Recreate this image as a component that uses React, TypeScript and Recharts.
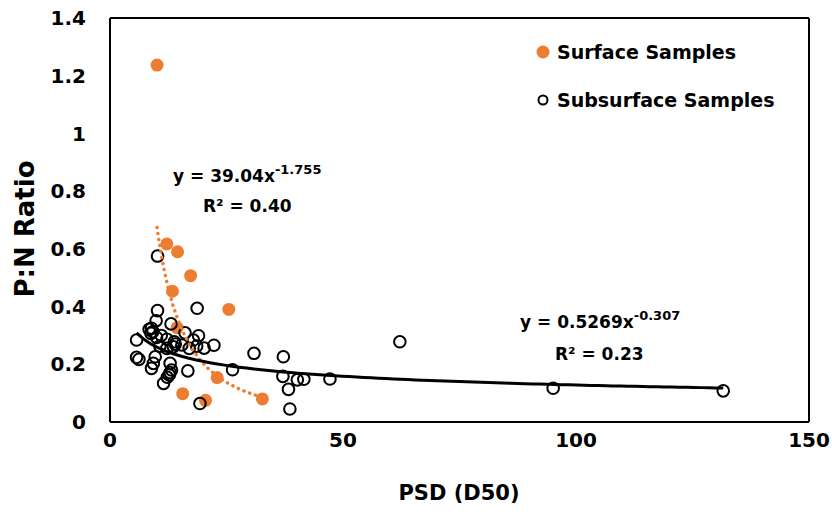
import { ReferenceLine, Scatter, ScatterChart, XAxis, YAxis } from 'recharts';

const FONT = '"DejaVu Sans", sans-serif';

// surface samples (orange)
const surfaceX = [10.1, 12.2, 14.5, 17.3, 13.4, 25.5, 14.4, 23.0, 15.6, 20.5, 32.7];
const surfaceY = [1.237, 0.617, 0.59, 0.507, 0.453, 0.39, 0.327, 0.154, 0.098, 0.075, 0.08];

// subsurface samples (open circles)
const subsurfaceX = [
    10.2, 10.2, 18.7, 9.9, 13.1, 8.9, 8.8, 16.1, 19.0, 5.7, 10.0, 12.2, 13.8, 17.9, 22.3, 20.2, 18.6,
    17.0, 15.4, 10.7, 12.2, 13.6, 30.9, 37.2, 5.7, 6.2, 9.7, 9.3, 8.9, 12.9, 13.2, 12.7, 12.9, 16.7,
    26.3, 11.5, 12.3, 37.1, 40.2, 41.6, 38.3, 19.3, 38.6, 47.2, 62.2, 95.1, 131.6, 9.2, 8.4, 14.0, 11.0
];
const subsurfaceY = [
    0.575, 0.386, 0.394, 0.351, 0.34, 0.325, 0.307, 0.309, 0.299, 0.284, 0.293, 0.287, 0.278, 0.284,
    0.266, 0.256, 0.263, 0.255, 0.267, 0.263, 0.255, 0.261, 0.238, 0.226, 0.224, 0.217, 0.226, 0.203,
    0.186, 0.203, 0.18, 0.163, 0.171, 0.177, 0.181, 0.134, 0.155, 0.158, 0.146, 0.148, 0.113, 0.064,
    0.045, 0.149, 0.278, 0.117, 0.108, 0.313, 0.321, 0.27, 0.3
];

const xTicks = [0, 50, 100, 150];
const yTicks = [0, 0.2, 0.4, 0.6, 0.8, 1, 1.2, 1.4];

// power trendlines as printed on the chart
const surfaceFit = { a: 39.04, b: -1.755, from: 10.1, to: 32.7 };
const subsurfaceFit = { a: 0.5269, b: -0.307, from: 5.7, to: 131.6 };

type Fit = { a: number; b: number; from: number; to: number };

function fitPoints(f: Fit, n = 80) {
    const pts = [];
    for (let i = 0; i <= n; i++) {
        const x = f.from + ((f.to - f.from) * i) / n;
        pts.push({ x, y: f.a * Math.pow(x, f.b) });
    }
    return pts;
}

const surfaceData = surfaceX.map((x, i) => ({ x, y: surfaceY[i] }));
const subsurfaceData = subsurfaceX.map((x, i) => ({ x, y: subsurfaceY[i] }));

const SurfaceDot = (p: any) => <circle cx={p.cx} cy={p.cy} r={6.5} fill="#ED7D31" />;
const SubDot = (p: any) => <circle cx={p.cx} cy={p.cy} r={5.8} fill="none" stroke="#000" strokeWidth={2} />;
const NoDot = () => <g />;

const tickStyle = { fontSize: 20, fontWeight: 700, fill: '#000', fontFamily: FONT };

export default function App() {
    return (
        <div style={{ position: 'absolute', left: 0, top: 0, width: 832, height: 516, background: '#fff' }}>
            <ScatterChart width={832} height={516} margin={{ top: 18, right: 23, bottom: 0, left: 0 }}>
                <XAxis
                    type="number"
                    dataKey="x"
                    domain={[0, 150]}
                    ticks={xTicks}
                    height={94}
                    tickLine={false}
                    tickSize={0}
                    tickMargin={11}
                    axisLine={{ stroke: '#000', strokeWidth: 2 }}
                    tick={tickStyle}
                />
                <YAxis
                    type="number"
                    dataKey="y"
                    domain={[0, 1.4]}
                    ticks={yTicks}
                    width={110}
                    tickLine={false}
                    tickSize={0}
                    tickMargin={24}
                    axisLine={{ stroke: '#000', strokeWidth: 2 }}
                    tick={tickStyle}
                />
                <ReferenceLine y={1.4} stroke="#000" strokeWidth={2} />
                <ReferenceLine x={150} stroke="#000" strokeWidth={2} />
                <Scatter data={surfaceData} shape={SurfaceDot} isAnimationActive={false} />
                <Scatter data={subsurfaceData} shape={SubDot} isAnimationActive={false} />
                <Scatter
                    data={fitPoints(surfaceFit)}
                    shape={NoDot}
                    line={{ stroke: '#ED7D31', strokeWidth: 3.5, strokeDasharray: '0.1 6', strokeLinecap: 'round' }}
                    lineType="joint"
                    isAnimationActive={false}
                />
                <Scatter
                    data={fitPoints(subsurfaceFit)}
                    shape={NoDot}
                    line={{ stroke: '#000', strokeWidth: 3 }}
                    lineType="joint"
                    isAnimationActive={false}
                />
            </ScatterChart>
            <svg width={832} height={516} style={{ position: 'absolute', left: 0, top: 0, pointerEvents: 'none' }}
                fontFamily={FONT} fontWeight={700} fill="#000">
                <text x={25} y={229} fontSize={26} textAnchor="middle" dominantBaseline="central"
                    transform="rotate(-90 25 229)">P:N Ratio</text>
                <text x={459} y={500} fontSize={21} textAnchor="middle">PSD (D50)</text>

                <circle cx={543} cy={52} r={6.5} fill="#ED7D31" />
                <text x={557} y={59} fontSize={19}>Surface Samples</text>
                <circle cx={543} cy={100} r={4.5} fill="none" stroke="#000" strokeWidth={2} />
                <text x={557} y={107} fontSize={19}>Subsurface Samples</text>

                <text x={173} y={182} fontSize={17}>y = 39.04x<tspan fontSize={13} dy={-8}>-1.755</tspan></text>
                <text x={203} y={212} fontSize={17}>R² = 0.40</text>

                <text x={520} y={328} fontSize={17}>y = 0.5269x<tspan fontSize={13} dy={-8}>-0.307</tspan></text>
                <text x={555} y={360} fontSize={17}>R² = 0.23</text>
            </svg>
        </div>
    );
}
